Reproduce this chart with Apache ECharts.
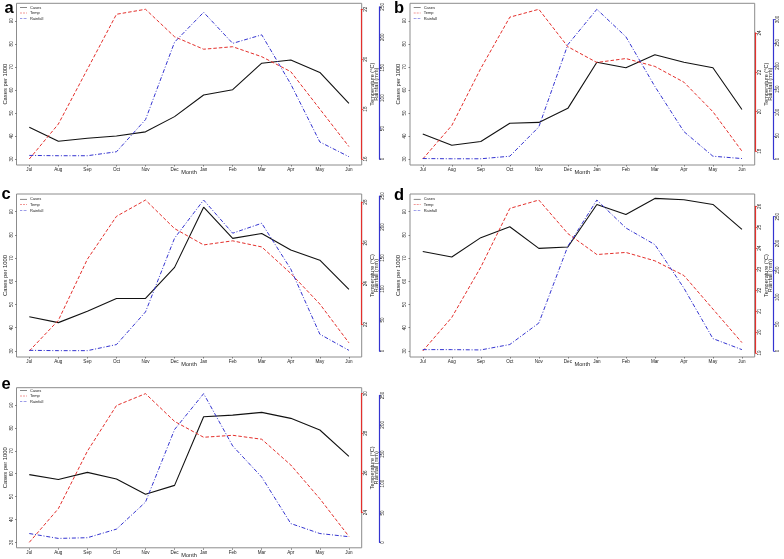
<!DOCTYPE html>
<html>
<head>
<meta charset="utf-8">
<script src="https://cdn.jsdelivr.net/npm/echarts@6/dist/echarts.min.js"></script>
<style>
html, body { margin: 0; padding: 0; background: #fff; }
#chart { width: 784px; height: 559px; }
</style>
</head>
<body>
<div id="chart"></div>
<script>
var months = ['Jul', 'Aug', 'Sep', 'Oct', 'Nov', 'Dec', 'Jan', 'Feb', 'Mar', 'Apr', 'May', 'Jun'];

// cases per 1000
var casesA = [43.8, 37.7, 39.0, 40.0, 41.8, 48.4, 57.8, 60.1, 71.6, 73.0, 67.6, 54.1];
var casesB = [40.9, 36.0, 37.6, 45.5, 45.9, 52.0, 72.0, 69.6, 75.3, 72.0, 69.6, 51.5];
var casesC = [44.7, 42.2, 47.1, 52.6, 52.6, 66.0, 91.9, 78.5, 80.6, 73.5, 69.1, 56.5];
var casesD = [72.8, 70.5, 78.8, 83.5, 74.2, 74.8, 93.1, 88.8, 95.7, 95.1, 93.1, 82.4];
var casesE = [59.6, 57.5, 60.6, 57.7, 51.0, 54.9, 84.9, 85.6, 86.8, 84.2, 79.1, 67.6];

// temperature (°C)
var tempA = [16.0, 17.4, 19.6, 21.8, 22.0, 20.9, 20.4, 20.5, 20.1, 19.5, 18.0, 16.5];
var tempB = [17.6, 19.3, 22.2, 24.8, 25.2, 23.3, 22.5, 22.7, 22.3, 21.5, 20.0, 18.0];
var tempC = [20.7, 22.2, 25.2, 27.3, 28.1, 26.7, 25.9, 26.1, 25.8, 24.5, 23.0, 21.1];
var tempD = [19.1, 20.7, 23.1, 25.9, 26.3, 24.7, 23.7, 23.8, 23.4, 22.7, 21.1, 19.5];
var tempE = [22.5, 24.2, 27.1, 29.4, 30.0, 28.6, 27.8, 27.9, 27.7, 26.4, 24.7, 22.8];

// rainfall (mm)
var rainA = [5.9, 5.4, 5.4, 11.9, 64.7, 192, 241, 190, 204, 123, 28, 3.8];
var rainB = [1, 0.5, 0.5, 6, 69, 246, 322, 263, 156, 59, 6, 1];
var rainC = [1, 0.5, 0.5, 10.3, 63, 182, 243.5, 190, 206, 132, 27, 1];
var rainD = [2.5, 2.5, 1.9, 12, 52, 195, 281, 229, 198, 117, 23, 2.5];
var rainE = [15, 6.7, 7.9, 22.5, 68.5, 192, 253, 164, 111, 32, 15, 9.6];

// tick labels
var casesTicks = [30, 40, 50, 60, 70, 80, 90];
var tempTicksA = [16, 18, 20, 22];
var tempTicksB = [18, 20, 22, 24];
var tempTicksC = [22, 24, 26, 28];
var tempTicksD = [19, 20, 21, 22, 23, 24, 25, 26];
var tempTicksE = [24, 26, 28, 30];
var rainTicksA = [0, 50, 100, 150, 200, 250];
var rainTicksB = [0, 50, 100, 150, 200, 250, 300];
var rainTicksC = [0, 50, 100, 150, 200, 250];
var rainTicksD = [0, 50, 100, 150, 200, 250];
var rainTicksE = [0, 50, 100, 150, 200, 250];

var casesLim = [30, 95];

// layout of each panel: plot box [left, top, right, bottom] in px
var panels = [
	{ letter: 'a', cases: casesA, temp: tempA, rain: rainA, tempTicks: tempTicksA, rainTicks: rainTicksA,
		box: [16.5, 3.3, 361.7, 165], redOff: 0, blueOff: 17.6, legend: [20, 5], title: [4.5, -0.3] },
	{ letter: 'b', cases: casesB, temp: tempB, rain: rainB, tempTicks: tempTicksB, rainTicks: rainTicksB,
		box: [410, 3.3, 754.7, 165], redOff: 1, blueOff: 19, legend: [413.7, 5], title: [394, -0.3] },
	{ letter: 'c', cases: casesC, temp: tempC, rain: rainC, tempTicks: tempTicksC, rainTicks: rainTicksC,
		box: [16.5, 194, 361.7, 357], redOff: 0, blueOff: 17.6, legend: [20, 196.7], title: [1.5, 186.4] },
	{ letter: 'd', cases: casesD, temp: tempD, rain: rainD, tempTicks: tempTicksD, rainTicks: rainTicksD,
		box: [410, 194, 754.7, 357], redOff: 1, blueOff: 19, legend: [413.7, 196.7], title: [394, 187] },
	{ letter: 'e', cases: casesE, temp: tempE, rain: rainE, tempTicks: tempTicksE, rainTicks: rainTicksE,
		box: [16.5, 387.7, 361.7, 548.3], redOff: 0, blueOff: 17.6, legend: [20, 388], title: [1.5, 376.4] }
];

var CW = 784, CH = 559;
var FONT = 'Liberation Sans, Arial, sans-serif';
var RED = '#e4302c', BLUE = '#3434d0';

// legend keys drawn as short line pieces
var keySolid = 'path://M0,0H14V1H0Z';
var keyDash = 'path://M0,0H4V1H0Z M6,0H10V1H6Z M12,0H14V1H12Z';
var keyDotDash = 'path://M0,0H4.5V1H0Z M6,0H7V1H6Z M8.5,0H13V1H8.5Z M14,0H14.6V1H14Z';

// R-style axis range: 4% beyond the limits
function ext(lo, hi) {
	var r = hi - lo;
	return [lo - 0.04 * r, hi + 0.04 * r];
}

// sub grid whose height covers only the tick range inside the plot box
function band(box, range, t0, t1) {
	var h = box[3] - box[1];
	var top = box[1] + (range[1] - t1) / (range[1] - range[0]) * h;
	var bot = box[1] + (range[1] - t0) / (range[1] - range[0]) * h;
	return { top: top, bottom: CH - bot, botPx: bot };
}

var grids = [], xAxes = [], yAxes = [], series = [], legends = [], titles = [];

function hidden() {
	return { show: false };
}

for (var i = 0; i < panels.length; i++) {
	var p = panels[i];
	var L = p.box[0], T = p.box[1], R = p.box[2], B = p.box[3];
	var w = R - L;
	var pad = w * 0.44 / 11.88;
	var gl = L + pad, gr = CW - (R - pad);

	// plot box with axis titles
	var g0 = grids.length;
	grids.push({ left: L, top: T, width: w, height: B - T, show: true, borderColor: '#8c8c8c', borderWidth: 1, backgroundColor: 'transparent' });
	xAxes.push({
		gridIndex: g0, type: 'category', data: months,
		axisLine: hidden(), axisTick: hidden(), axisLabel: hidden(),
		name: 'Month', nameLocation: 'middle', nameGap: 4.2,
		nameTextStyle: { fontSize: 5.6, fontFamily: FONT, color: '#222' }
	});
	yAxes.push({
		gridIndex: g0, type: 'value', position: 'left', min: 0, max: 1,
		axisLine: hidden(), axisTick: hidden(), axisLabel: hidden(), splitLine: hidden(),
		name: 'Cases per 1000', nameLocation: 'middle', nameGap: 8.5,
		nameTextStyle: { fontSize: 5.8, fontFamily: FONT, color: '#222' }
	});
	yAxes.push({
		gridIndex: g0, type: 'value', position: 'right', min: 0, max: 1,
		axisLine: hidden(), axisTick: hidden(), axisLabel: hidden(), splitLine: hidden(),
		name: 'Temperature (°C)', nameLocation: 'middle', nameGap: p.redOff + 7.6,
		nameTextStyle: { fontSize: 5.6, fontFamily: FONT, color: '#222' }
	});
	yAxes.push({
		gridIndex: g0, type: 'value', position: 'right', min: 0, max: 1,
		axisLine: hidden(), axisTick: hidden(), axisLabel: hidden(), splitLine: hidden(),
		name: 'Rainfall (mm)', nameLocation: 'middle', nameGap: p.redOff + 11.8,
		nameTextStyle: { fontSize: 5.6, fontFamily: FONT, color: '#222' }
	});

	// cases
	var cb = band(p.box, ext(casesLim[0], casesLim[1]), casesTicks[0], casesTicks[casesTicks.length - 1]);
	var gc = grids.length;
	grids.push({ left: gl, right: gr, top: cb.top, bottom: cb.bottom });
	var xc = xAxes.length;
	xAxes.push({
		gridIndex: gc, type: 'category', data: months, boundaryGap: false, position: 'bottom',
		offset: B - cb.botPx,
		axisLine: hidden(),
		axisTick: { show: true, length: 1.5, lineStyle: { color: '#555', width: 0.7 } },
		axisLabel: { interval: 0, fontSize: 4.6, margin: 2, color: '#222', fontFamily: FONT }
	});
	var yc = yAxes.length;
	yAxes.push({
		gridIndex: gc, type: 'value', position: 'left', offset: pad,
		min: casesTicks[0], max: casesTicks[casesTicks.length - 1], interval: casesTicks[1] - casesTicks[0],
		axisLine: hidden(),
		axisTick: { show: true, length: 1.5, lineStyle: { color: '#555', width: 0.7 } },
		axisLabel: { rotate: 90, fontSize: 4.6, margin: 2.4, color: '#222', fontFamily: FONT },
		splitLine: hidden()
	});
	series.push({
		type: 'line', name: 'Cases', xAxisIndex: xc, yAxisIndex: yc, data: p.cases,
		symbol: 'none', clip: false, silent: true,
		lineStyle: { color: '#111', width: 1.1 }, itemStyle: { color: '#111' }
	});

	// temperature
	var tr = ext(Math.min.apply(null, p.temp), Math.max.apply(null, p.temp));
	var tb = band(p.box, tr, p.tempTicks[0], p.tempTicks[p.tempTicks.length - 1]);
	var gt = grids.length;
	grids.push({ left: gl, right: gr, top: tb.top, bottom: tb.bottom });
	var xt = xAxes.length;
	xAxes.push({ gridIndex: gt, type: 'category', data: months, boundaryGap: false, show: false });
	var yt = yAxes.length;
	yAxes.push({
		gridIndex: gt, type: 'value', position: 'right', offset: pad + p.redOff,
		min: p.tempTicks[0], max: p.tempTicks[p.tempTicks.length - 1], interval: p.tempTicks[1] - p.tempTicks[0],
		axisLine: { show: true, lineStyle: { color: RED, width: 1.2 } },
		axisTick: { show: true, length: 1.5, lineStyle: { color: RED, width: 0.8 } },
		axisLabel: { rotate: 90, fontSize: 4.6, margin: 1.4, color: '#222', fontFamily: FONT },
		splitLine: hidden()
	});
	series.push({
		type: 'line', name: 'Temp', xAxisIndex: xt, yAxisIndex: yt, data: p.temp,
		symbol: 'none', clip: false, silent: true,
		lineStyle: { color: RED, width: 1, type: [3.5, 2] }, itemStyle: { color: RED }
	});

	// rainfall
	var rr = ext(0, Math.max.apply(null, p.rain));
	var rb = band(p.box, rr, p.rainTicks[0], p.rainTicks[p.rainTicks.length - 1]);
	var gr2 = grids.length;
	grids.push({ left: gl, right: gr, top: rb.top, bottom: rb.bottom });
	var xr = xAxes.length;
	xAxes.push({ gridIndex: gr2, type: 'category', data: months, boundaryGap: false, show: false });
	var yr = yAxes.length;
	yAxes.push({
		gridIndex: gr2, type: 'value', position: 'right', offset: pad + p.blueOff,
		min: p.rainTicks[0], max: p.rainTicks[p.rainTicks.length - 1], interval: p.rainTicks[1] - p.rainTicks[0],
		axisLine: { show: true, lineStyle: { color: BLUE, width: 1.2 } },
		axisTick: { show: true, length: 1.5, lineStyle: { color: BLUE, width: 0.8 } },
		axisLabel: { rotate: 90, fontSize: 4.6, margin: 1.2, color: '#222', fontFamily: FONT },
		splitLine: hidden()
	});
	series.push({
		type: 'line', name: 'Rainfall', xAxisIndex: xr, yAxisIndex: yr, data: p.rain,
		symbol: 'none', clip: false, silent: true,
		lineStyle: { color: BLUE, width: 1, type: [4, 1.8, 1, 1.8] }, itemStyle: { color: BLUE }
	});

	legends.push({
		left: p.legend[0], top: p.legend[1], orient: 'vertical', padding: 0,
		itemWidth: 7, itemHeight: 1, itemGap: 0.6, selectedMode: false,
		data: [
			{ name: 'Cases', icon: keySolid },
			{ name: 'Temp', icon: keyDash },
			{ name: 'Rainfall', icon: keyDotDash }
		],
		textStyle: { fontSize: 4, lineHeight: 5, color: '#222', fontFamily: FONT, padding: [0, 0, 0, -2] }
	});

	titles.push({
		text: p.letter, left: p.title[0], top: p.title[1], padding: 0,
		textStyle: { fontSize: 16.5, fontWeight: 'bold', color: '#000', fontFamily: FONT }
	});
}

var chart = echarts.init(document.getElementById('chart'));
chart.setOption({
	animation: false,
	backgroundColor: '#fff',
	title: titles,
	legend: legends,
	grid: grids,
	xAxis: xAxes,
	yAxis: yAxes,
	series: series
});
</script>
</body>
</html>
